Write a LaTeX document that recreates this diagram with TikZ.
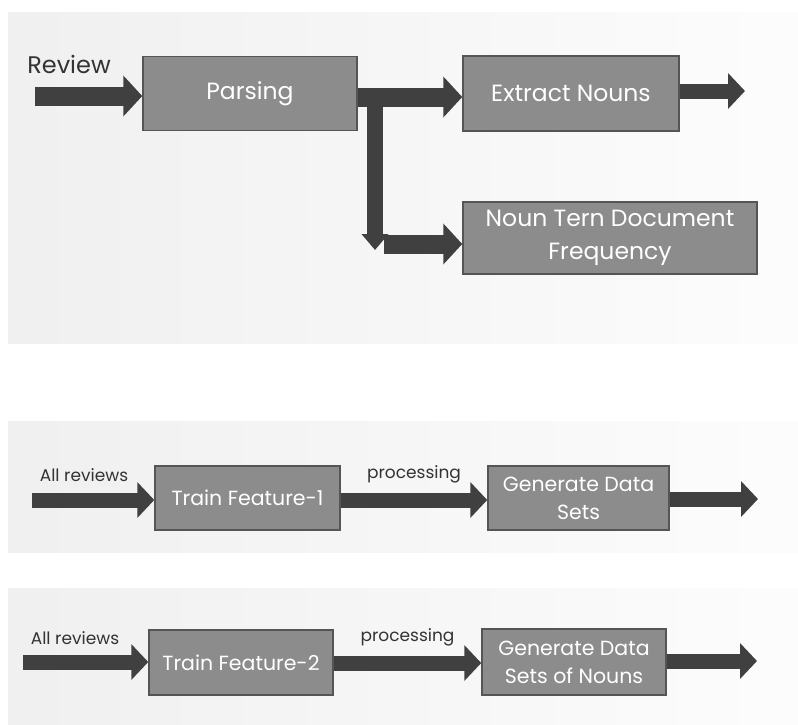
\documentclass[tikz,border=0pt]{standalone}
\usepackage{fontspec}
\setmainfont{Poppins}
\usetikzlibrary{arrows.meta}
\definecolor{boxgray}{HTML}{8C8C8C}
\definecolor{boxline}{HTML}{555555}
\definecolor{arrowgray}{HTML}{404040}
\definecolor{labelgray}{HTML}{333333}
\begin{document}
\begin{tikzpicture}[x=1pt,y=-1pt]
  \tikzset{ b/.style={rectangle,draw=boxline,line width=1.5pt,fill=boxgray,text=white,
      align=center,inner sep=0pt},
    big/.style={arrowgray,line width=19pt,-{Triangle[length=19pt,width=40pt]}},
    small/.style={arrowgray,line width=15pt,-{Triangle[length=17pt,width=35pt]}},
    lbl/.style={text=labelgray,inner sep=0pt},
    panel/.style={left color=black!6,right color=black!1,draw=none},
  }
  \useasboundingbox (0,0) rectangle (798,724);
  \fill[white] (0,0) rectangle (798,724);
  \shade[panel] (8,12) rectangle (798,343);
  \shade[panel] (8,421) rectangle (798,552);
  \shade[panel] (8,588) rectangle (798,724);

  % first diagram
  \node[b,minimum width=214pt,minimum height=74pt,font=\fontsize{23.5}{26}\selectfont] (parse) at (250, 93.5) {Parsing};
  \node[b,minimum width=216pt,minimum height=75pt,font=\fontsize{23.5}{26}\selectfont] (extract) at (571, 93.5) {Extract Nouns};
  \node[b,minimum width=294pt,minimum height=72pt,font=\fontsize{23.5}{33}\selectfont] (ntdf) at (610, 238) {Noun Tern Document\\Frequency};
  \node[lbl,font=\fontsize{24}{26}\selectfont] (rev) at (69, 64) {Review};
  \coordinate (revin) at (35, 96);
  \coordinate (exout) at (745, 91);
  \coordinate (split) at (375, 100);
  \coordinate (down) at (375, 250);
  \coordinate (turn) at (384, 244);

  \draw[big] (revin) -- (revin -| parse.west);
  \draw[big] (parse.east |- 0,97) -- (extract.west |- 0,97);
  \draw[small] (extract.east |- exout) -- (exout);
  \draw[arrowgray,line width=16pt,-{Triangle[length=16pt,width=26pt]}] (split) -- (down);
  \draw[big] (turn) -- (turn -| ntdf.west);

  % second diagram
  \node[b,minimum width=185pt,minimum height=64pt,font=\fontsize{20.5}{22}\selectfont] (tf1) at (247.5, 498) {Train Feature-1};
  \node[b,minimum width=181pt,minimum height=64pt,font=\fontsize{20.5}{28}\selectfont] (gds) at (578.5, 498) {Generate Data\\Sets};
  \node[lbl,font=\fontsize{17}{19}\selectfont] (all1) at (84, 475) {All reviews};
  \coordinate (in1) at (32, 500);
  \coordinate (out1) at (758, 499);
  \draw[small] (in1) -- (in1 -| tf1.west);
  \draw[small] (tf1.east |- 0,500) -- (gds.west |- 0,500) node [midway, above=9pt, lbl, font=\fontsize{17}{19}\selectfont] (proc1) {processing};
  \draw[small] (gds.east |- out1) -- (out1);

  % third diagram
  \node[b,minimum width=184pt,minimum height=65pt,font=\fontsize{20.5}{22}\selectfont] (tf2) at (241, 662.5) {Train Feature-2};
  \node[b,minimum width=184pt,minimum height=66pt,font=\fontsize{20.5}{28}\selectfont] (gdsn) at (574, 662) {Generate Data\\Sets of Nouns};
  \node[lbl,font=\fontsize{17}{19}\selectfont] (all2) at (75, 638) {All reviews};
  \coordinate (in2) at (23, 662);
  \coordinate (out2) at (757, 661);
  \draw[small] (in2) -- (in2 -| tf2.west);
  \draw[small] (tf2.east |- 0,663) -- (gdsn.west |- 0,663) node [midway, above=9pt, lbl, font=\fontsize{17}{19}\selectfont] (proc2) {processing};
  \draw[small] (gdsn.east |- out2) -- (out2);
\end{tikzpicture}
\end{document}
